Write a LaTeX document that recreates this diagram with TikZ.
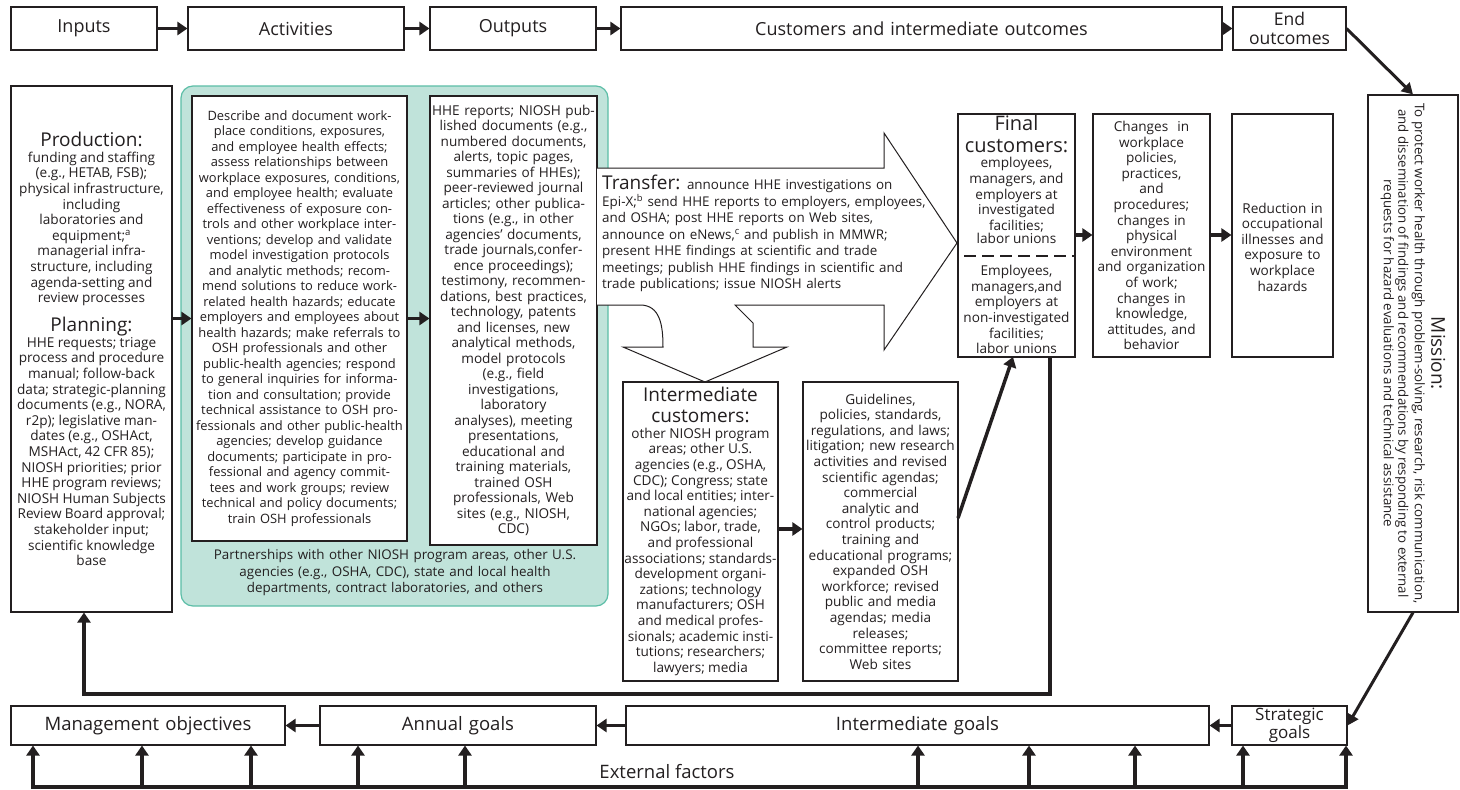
\documentclass[tikz,border=0pt]{standalone}
\usepackage{fontspec}
\setmainfont{Open Sans}
\usetikzlibrary{arrows.meta}
\definecolor{ink}{HTML}{231F20}
\definecolor{tealfill}{HTML}{C0E3DA}
\definecolor{tealline}{HTML}{5CBEA7}
\newcommand{\topf}{\fontsize{18}{19.5}\selectfont}
\newcommand{\headf}{\fontsize{19}{21}\selectfont}
\newcommand{\bodyf}{\fontsize{13.6}{15.6}\selectfont}
\newcommand{\trf}{\fontsize{13.4}{16.5}\selectfont}
\begin{document}
\begin{tikzpicture}[x=1pt,y=-1pt,
  box/.style={draw=ink, line width=1.1pt, fill=white, inner xsep=0pt, inner ysep=0pt, align=center, text=ink},
  txt/.style={inner sep=0pt, align=center, text=ink},
  arr/.style={draw=ink, line width=3.5pt, -{Triangle[length=10pt,width=13pt]}},
  conn/.style={draw=ink, line width=3.5pt},
]
\useasboundingbox (0,0) rectangle (1460,790);
\fill[white] (0,0) rectangle (1460,790);

% ---------- top row
\node[box, text width=146pt, minimum height=43pt, font=\topf] (inputs) at (84,28.5) {Inputs};
\node[box, text width=216pt, minimum height=43pt, font=\topf] (activities) at (296,28.5) {Activities};
\node[box, text width=166pt, minimum height=43pt, font=\topf] (outputs) at (513,28.5) {Outputs};
\node[box, text width=601pt, minimum height=43pt, font=\topf] (customers) at (921.5,28.5) {Customers and intermediate outcomes};
\node[box, text width=113pt, minimum height=43pt, font=\fontsize{17.5}{19.5}\selectfont] (endout) at (1289.5,28.5) {End\\outcomes};
\draw[arr] (inputs) -- (activities);
\draw[arr] (activities) -- (outputs);
\draw[arr] (outputs) -- (customers);
\draw[arr] (customers) -- (endout);

% ---------- production
\node[box, text width=161pt, minimum height=526pt] (production) at (91.5,349) {%
{\headf Production:\par}\bodyf
funding and staffing\\
(e.g., HETAB, FSB);\\
physical infrastructure,\\
including\\
laboratories and\\
equipment;\textsuperscript{a}\\
managerial infra-\\
structure, including\\
agenda-setting and\\
review processes\par
\vspace{8pt}
{\headf Planning:\par}\bodyf
HHE requests; triage\\
process and procedure\\
manual; follow-back\\
data; strategic-planning\\
documents (e.g., NORA,\\
r2p); legislative man-\\
dates (e.g., OSHAct,\\
MSHAct, 42 CFR 85);\\
NIOSH priorities; prior\\
HHE program reviews;\\
NIOSH Human Subjects\\
Review Board approval;\\
stakeholder input;\\
scientific knowledge\\
base\par};

% ---------- teal partnership area
\node[draw=tealline, fill=tealfill, line width=1.2pt, rounded corners=12pt, minimum width=427pt, minimum height=520pt, inner sep=0pt] (partner) at (394.5,346) {};
\node[txt, text width=420pt, font=\fontsize{13.4}{16.5}\selectfont] (partnertext) at (395,573) {Partnerships with other NIOSH program areas, other U.S.\\
agencies (e.g., OSHA, CDC), state and local health\\
departments, contract laboratories, and others};

\node[box, text width=215pt, minimum height=445pt, font=\fontsize{12.9}{15.5}\selectfont] (acts) at (299.5,318.5) {%
Describe and document work-\\
place conditions, exposures,\\
and employee health effects;\\
assess relationships between\\
workplace exposures, conditions,\\
and employee health; evaluate\\
effectiveness of exposure con-\\
trols and other workplace inter-\\
ventions; develop and validate\\
model investigation protocols\\
and analytic methods; recom-\\
mend solutions to reduce work-\\
related health hazards; educate\\
employers and employees about\\
health hazards; make referrals to\\
OSH professionals and other\\
public-health agencies; respond\\
to general inquiries for informa-\\
tion and consultation; provide\\
technical assistance to OSH pro-\\
\mbox{fessionals and other public-health}\\
agencies; develop guidance\\
documents; participate in pro-\\
fessional and agency commit-\\
tees and work groups; review\\
technical and policy documents;\\
train OSH professionals};

\node[box, text width=167pt, minimum height=449pt, font=\fontsize{13.6}{15.5}\selectfont] (outs) at (513.5,320.5) {%
HHE reports; NIOSH pub-\\
lished documents (e.g.,\\
numbered documents,\\
alerts, topic pages,\\
summaries of HHEs);\\
peer-reviewed journal\\
articles; other publica-\\
tions (e.g., in other\\
agencies' documents,\\
trade journals,confer-\\
ence proceedings);\\
testimony, recommen-\\
dations, best practices,\\
technology, patents\\
and licenses, new\\
analytical methods,\\
model protocols\\
(e.g., field\\
investigations,\\
laboratory\\
analyses), meeting\\
presentations,\\
educational and\\
training materials,\\
trained OSH\\
professionals, Web\\
sites (e.g., NIOSH,\\
CDC)};

\draw[arr] (production.east |- acts.west) -- (acts.west);
\draw[arr] (acts.east) -- (outs.west |- acts.east);

% ---------- transfer arrow shape
\draw[draw=ink, line width=1pt, fill=white] (597,168) -- (884,168) -- (884,133) -- (957,243) -- (884,350) -- (884,305) -- (735,305) -- (753,323) -- (753,347) -- (787,347) -- (705,382) -- (623,347) -- (663,347) .. controls (663,325) and (660,305) .. (640,305) -- (597,305);
\node[anchor=north west, inner sep=0pt, align=left, text=ink, text width=340pt, font=\trf] (transfertext) at (602,175) {%
{\fontsize{19}{19}\selectfont Transfer:} announce HHE investigations on\\
Epi-X;\textsuperscript{b} send HHE reports to employers, employees,\\
and OSHA; post HHE reports on Web sites,\\
announce on eNews,\textsuperscript{c} and publish in MMWR;\\
present HHE findings at scientific and trade\\
meetings; publish HHE findings in scientific and\\
trade publications; issue NIOSH alerts};

% ---------- final customers
\node[box, minimum width=117pt, minimum height=243pt] (final) at (1016.5,235.5) {};
\node[txt, anchor=north, text width=117pt] (finaltop) at (1016.5,115) {%
{\fontsize{20}{22}\selectfont Final\\customers:\par}\bodyf
employees,\\
managers, and\\
employers at\\
investigated\\
facilities;\\
labor unions};
\node[txt, anchor=south, text width=117pt, font=\bodyf] (finalbot) at (1016.5,354) {%
Employees,\\
managers,and\\
employers at\\
non-investigated\\
facilities;\\
labor unions};
\draw[draw=ink, line width=1.2pt, dash pattern=on 12pt off 6pt] (final.west |- 0,256) ++(7,0) -- (final.east |- 0,256);

\node[box, text width=117pt, minimum height=243pt, font=\bodyf] (changes) at (1151.5,235.5) {%
Changes~ in\\
workplace\\
policies,\\
practices,\\
and\\
procedures;\\
changes in\\
physical\\
environment\\
and organization\\
of work;\\
changes in\\
knowledge,\\
attitudes, and\\
behavior};
\node[box, minimum width=101pt, minimum height=243pt] (reduction) at (1282.5,235.5) {};
\node[txt, text width=101pt, font=\bodyf] (reductiontext) at (1282.5,247) {%
Reduction in\\
occupational\\
illnesses and\\
exposure to\\
workplace\\
hazards};
\draw[arr] (final.east |- 0,235) -- (changes.west |- 0,235);
\draw[arr] (changes.east |- 0,235) -- (reduction.west |- 0,235);

% ---------- mission
\node[box, minimum width=90pt, minimum height=517pt] (mission) at (1413,353.5) {};
\node[txt, rotate=-90, text width=512pt] (missiontext) at (1413,353.5) {%
{\headf Mission:\par}\fontsize{13.3}{16.5}\selectfont
To protect worker health through problem-solving, research, risk communication,\\
and dissemination of findings and recommendations by responding to external\\
requests for hazard evaluations and technical assistance};

% ---------- intermediate customers and guidelines
\node[box, text width=155pt, minimum height=299pt] (inter) at (700.5,531.5) {%
{\headf Intermediate\\customers:\par}\bodyf
other NIOSH program\\
areas; other U.S.\\
agencies (e.g., OSHA,\\
CDC); Congress; state\\
and local entities; inter-\\
national agencies;\\
NGOs; labor, trade,\\
and professional\\
associations; standards-\\
development organi-\\
zations; technology\\
manufacturers; OSH\\
and medical profes-\\
sionals; academic insti-\\
tutions; researchers;\\
lawyers; media\par};
\node[box, text width=155pt, minimum height=299pt, font=\bodyf] (guide) at (880.5,531.5) {%
Guidelines,\\
policies, standards,\\
regulations, and laws;\\
litigation; new research\\
activities and revised\\
scientific agendas;\\
commercial\\
analytic and\\
control products;\\
training and\\
educational programs;\\
expanded OSH\\
workforce; revised\\
public and media\\
agendas; media\\
releases;\\
committee reports;\\
Web sites};
\draw[arr] (inter.east |- 0,529) -- (guide.west |- 0,529);
\coordinate (g1) at (958,518);
\coordinate (f1) at (1013,357);
\draw[arr] (g1) -- (f1);

% ---------- feedback loop
\coordinate (fbtop) at (1050,357);
\coordinate (fbleft) at (84,694);
\draw[arr] (fbtop) |- (fbleft) -- (production.south -| fbleft);

% ---------- bottom row
\node[box, text width=274pt, minimum height=39pt, font=\fontsize{18.5}{19}\selectfont] (mgmt) at (148,725.5) {Management objectives};
\node[box, text width=276pt, minimum height=39pt, font=\fontsize{18.5}{19}\selectfont] (annual) at (458,725.5) {Annual goals};
\node[box, text width=583pt, minimum height=39pt, font=\fontsize{18.5}{19}\selectfont] (intgoals) at (917.5,725.5) {Intermediate goals};
\node[box, text width=115pt, minimum height=39pt, font=\fontsize{17}{17.5}\selectfont] (strategic) at (1289.5,725.5) {Strategic\\goals};
\draw[arr] (annual) -- (mgmt);
\draw[arr] (intgoals) -- (annual);
\draw[arr] (strategic) -- (intgoals);

\draw[draw=ink, line width=3pt, -{Triangle[length=11pt,width=12pt]}] (endout.east) -- (mission.north);
\draw[draw=ink, line width=3pt, -{Triangle[length=11pt,width=12pt]}] (mission.south) -- (strategic.east);

% ---------- external factors
\node[txt, font=\fontsize{18.5}{19}\selectfont] (external) at (667,772) {External factors};
\coordinate (efL) at (33,787);
\coordinate (efR) at (1346,787);
\draw[conn, line cap=rect] (efL) -- (efR);
\foreach \x/\n in {33/mgmt,142/mgmt,251/mgmt,358/annual,465/annual,918/intgoals,1029/intgoals,1135/intgoals,1243/strategic,1346/strategic}{
  \coordinate (ef\x) at (\x,787);
  \draw[arr] (ef\x) -- (ef\x |- \n.south);
}
\end{tikzpicture}
\end{document}
